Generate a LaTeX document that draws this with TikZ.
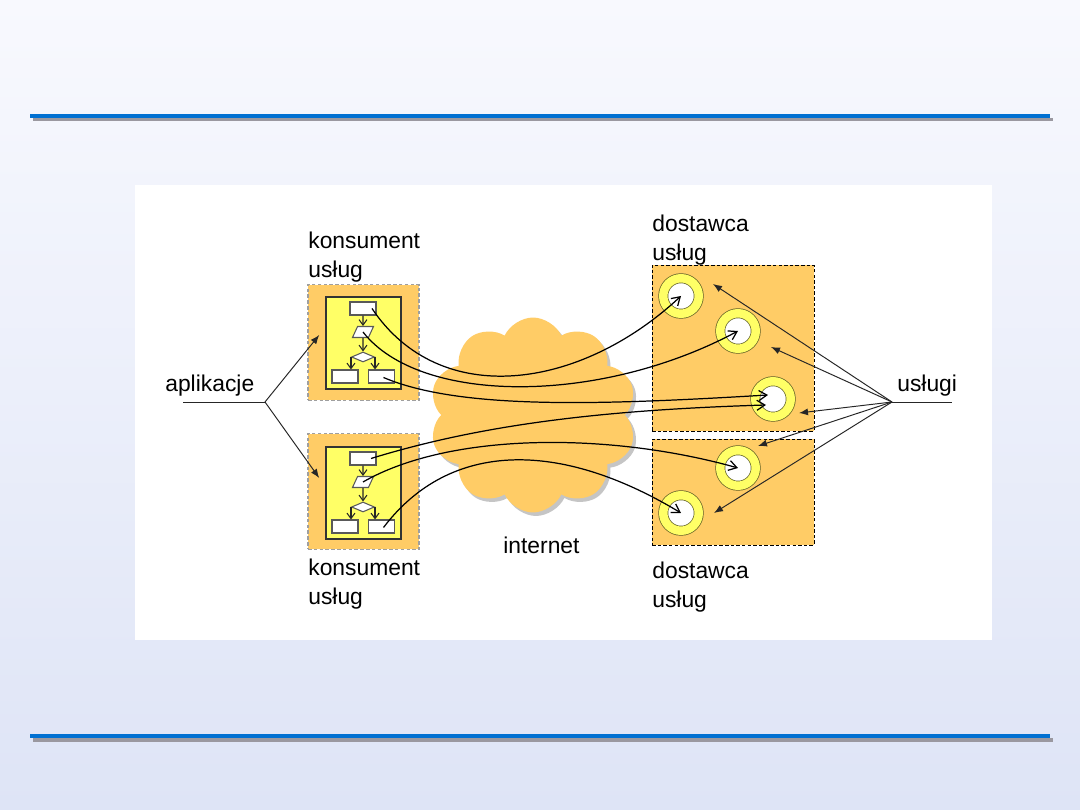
\documentclass[tikz,border=0pt]{standalone}
\usepackage{fontspec}
\setmainfont{Liberation Sans}
\usepackage{xcolor}
\definecolor{bgtop}{HTML}{F8F9FE}
\definecolor{bgbot}{HTML}{DEE4F6}
\definecolor{rulebl}{HTML}{0070D2}
\definecolor{rulesh}{HTML}{9A98A0}
\definecolor{orng}{HTML}{FFCC66}
\definecolor{yell}{HTML}{FFFF66}
\definecolor{ringedge}{HTML}{5F5F25}
\usepackage{tikz}
\usetikzlibrary{arrows.meta, shapes.geometric, shapes.symbols, shadows, calc}

\begin{document}
\begin{tikzpicture}[x=0.02cm, y=-0.02cm, >=Stealth,
  lbl/.style={font=\fontsize{13}{16}\selectfont, align=left, inner sep=0pt},
  konsbox/.style={draw=gray!75, fill=orng, line width=0.9pt, dash pattern=on 2pt off 1.3pt,
    minimum width=2.22cm, minimum height=2.32cm, inner sep=0pt},
  dostbox/.style={draw=black, fill=orng, line width=0.45pt, dash pattern=on 2pt off 1.2pt,
    minimum width=3.24cm, inner sep=0pt},
  appbox/.style={draw=black!80, fill=yell, line width=0.8pt,
    minimum width=1.5cm, minimum height=1.84cm, inner sep=0pt},
  stepbox/.style={draw=black!65, fill=white, line width=0.6pt,
    minimum width=0.52cm, minimum height=0.26cm, inner sep=0pt},
  iobox/.style={trapezium, trapezium left angle=65, trapezium right angle=115, trapezium stretches=true,
    draw=black!65, fill=white, line width=0.6pt, minimum width=0.42cm, minimum height=0.22cm, inner sep=0.5pt},
  testbox/.style={diamond, draw=black!65, fill=white, line width=0.6pt,
    minimum width=0.46cm, minimum height=0.2cm, inner sep=0.5pt},
  flowarr/.style={draw=black!85, line width=0.6pt, -{Straight Barb[length=1.1mm, width=1.6mm]}},
  svcring/.style={circle, fill=white, draw=ringedge, double=yell, double distance=0.17cm,
    line width=0.4pt, minimum size=0.71cm, inner sep=0pt},
  link/.style={draw=black, line width=0.7pt, -{Straight Barb[length=1.6mm, width=2mm]}},
  pick/.style={draw=black!85, line width=0.55pt, -{Latex[length=1.8mm, width=1.4mm]}}]

  % tlo
  \useasboundingbox (0,0) rectangle (1080,810);
  \shade[top color=bgtop, bottom color=bgbot] (0,0) rectangle (1080,810);
  \fill[rulesh] (33,118) rectangle (1053,121.5);
  \fill[rulebl] (30,114) rectangle (1050,118.5);
  \fill[rulesh] (33,738.5) rectangle (1053,742);
  \fill[rulebl] (30,734) rectangle (1050,738.5);
  \fill[white] (135,185) rectangle (992,640);

  % skrzynki
  \node[konsbox] (kons1) at (363.5,342.5) {};
  \node[konsbox] (kons2) at (363.5,491.5) {};
  \node[dostbox, minimum height=3.32cm] (dost1) at (733,348) {};
  \node[dostbox, minimum height=2.12cm] (dost2) at (733,492) {};
  \node[cloud, cloud puffs=10, cloud puff arc=130, aspect=1.05, fill=orng,
    minimum width=4.15cm, minimum height=3.9cm,
    drop shadow={shadow xshift=0.06cm, shadow yshift=-0.07cm, opacity=0.45}] (net) at (533,415) {};

  % aplikacja 1
  \node[appbox] (app1) at (363.5,343) {};
  \node[stepbox] (k1top) at (363,308.5) {};
  \node[iobox] (k1para) at (363,332) {\phantom{\rule{1pt}{1pt}}};
  \node[testbox] (k1dia) at (363,357) {\phantom{\rule{1pt}{1pt}}};
  \node[stepbox] (k1left) at (345,376.5) {};
  \node[stepbox] (k1right) at (381.5,376.5) {};
  \draw[flowarr] (k1top) -- (k1para);
  \draw[flowarr] (k1para) -- (k1dia);
  \draw[flowarr] (k1dia.west) -- (k1left.north -| k1dia.west);
  \draw[flowarr] (k1dia.east) -- (k1right.north -| k1dia.east);

  % aplikacja 2
  \node[appbox] (app2) at (363.5,493) {};
  \node[stepbox] (k2top) at (363,458.5) {};
  \node[iobox] (k2para) at (363,482) {\phantom{\rule{1pt}{1pt}}};
  \node[testbox] (k2dia) at (363,507) {\phantom{\rule{1pt}{1pt}}};
  \node[stepbox] (k2left) at (345,526.5) {};
  \node[stepbox] (k2right) at (381.5,526.5) {};
  \draw[flowarr] (k2top) -- (k2para);
  \draw[flowarr] (k2para) -- (k2dia);
  \draw[flowarr] (k2dia.west) -- (k2left.north -| k2dia.west);
  \draw[flowarr] (k2dia.east) -- (k2right.north -| k2dia.east);

  % uslugi
  \node[svcring] (d1) at (681,296) {};
  \node[svcring] (d2) at (738,331) {};
  \node[svcring] (d3) at (773,399) {};
  \node[svcring] (d4) at (738,468) {};
  \node[svcring] (d5) at (681,513) {};

  % opisy
  \node[lbl, anchor=north west] (lkons1) at (308,232) {konsument\\usług};
  \node[lbl, anchor=north west] (lkons2) at (308,559) {konsument\\usług};
  \node[lbl, anchor=north west] (ldost1) at (652,215) {dostawca\\usług};
  \node[lbl, anchor=north west] (ldost2) at (652,562) {dostawca\\usług};
  \node[lbl, anchor=base west] (lapl) at (165,392) {aplikacje};
  \node[lbl, anchor=base west] (lusl) at (897,392) {usługi};
  \node[lbl, anchor=base west] (lnet) at (503,554) {internet};

  % polaczenia przez internet
  \draw[link] ($(k1top)+(9,0)$) .. controls (440,410) and (580,390) .. (d1.center);
  \draw[link] (k1para.center) .. controls (420,405) and (600,405) .. (d2.center);
  \draw[link] ($(k1right)+(2,1)$) .. controls (460,410) and (600,405) .. ($(d3.center)+(-5,-4)$);
  \draw[link] ($(k2top)+(8,0)$) .. controls (480,425) and (600,410) .. ($(d3.center)+(-7,6)$);
  \draw[link] (k2para.center) .. controls (450,432) and (610,432) .. (d4.center);
  \draw[link] ($(k2right)+(2,1)$) .. controls (450,440) and (560,440) .. (d5.center);

  % aplikacje / uslugi
  \coordinate (apl) at (265,402);
  \coordinate (aplend) at (183,402);
  \coordinate (usl) at (892,402);
  \coordinate (uslend) at (952,402);
  \draw[black!85, line width=0.55pt] (aplend) -- (apl);
  \draw[pick] (apl) -- ($(kons1.west)+(12,-7.5)$);
  \draw[pick] (apl) -- ($(kons2.west)+(12,-13.5)$);
  \draw[black!85, line width=0.55pt] (usl) -- (uslend);
  \draw[pick] (usl) -- ($(d1)+(32,-12)$);
  \draw[pick] (usl) -- ($(d2)+(33,16)$);
  \draw[pick] (usl) -- ($(d3)+(26,14)$);
  \draw[pick] (usl) -- ($(d4)+(20,-22)$);
  \draw[pick] (usl) -- ($(d5)+(33,0)$);

\end{tikzpicture}
\end{document}
